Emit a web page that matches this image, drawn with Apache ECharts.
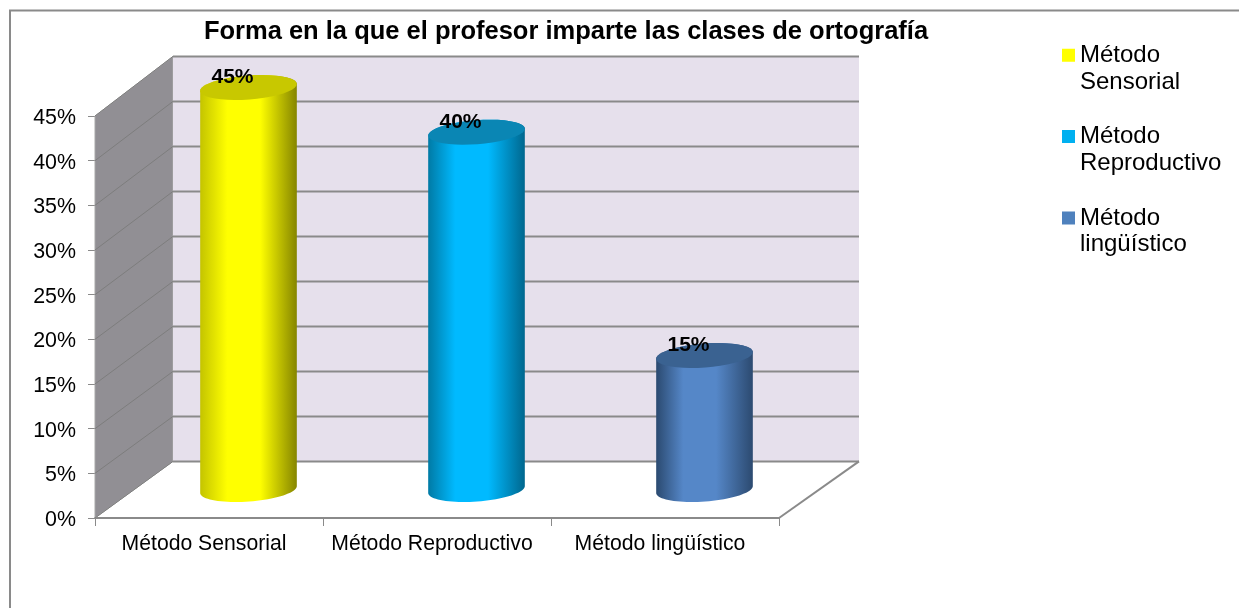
<!DOCTYPE html>
<html>
<head>
<meta charset="utf-8">
<style>
html, body { margin: 0; padding: 0; background: #fff; }
#chart { width: 1239px; height: 608px; }
</style>
<script src="https://cdn.jsdelivr.net/npm/echarts@6/dist/echarts.min.js"></script>
</head>
<body>
<div id="chart"></div>
<script>
const categorias = ['Método Sensorial', 'Método Reproductivo', 'Método lingüístico'];
const metodos = ['Método\nSensorial', 'Método\nReproductivo', 'Método\nlingüístico'];
const valores = [45, 40, 15];
const marcasY = [0, 5, 10, 15, 20, 25, 30, 35, 40, 45];
const titulo = 'Forma en la que el profesor imparte las clases de ortografía';

// profundidad del efecto 3D
const fondoX = 78;
const fondoY = -56.6;
const fugaY = -3; // la pared del fondo es un poco mas alta que el frente
const gris = '#8a8a8a';

const colores = [
    { base: '#ffff00', centro: '#ffff00', izq: '#c4c400', der: '#858500', tapa: '#c8c800' },
    { base: '#00b0f0', centro: '#00baff', izq: '#007aa5', der: '#00678e', tapa: '#0a86b4' },
    { base: '#4f81bd', centro: '#5587c8', izq: '#2b4a70', der: '#2c4a70', tapa: '#3a6291' }
];

function renderParedes(params, api) {
    if (params.dataIndex !== 0) return;
    const cs = params.coordSys;
    const x0 = cs.x;
    const x1 = cs.x + cs.width;
    const y0 = cs.y + cs.height;
    const yTop = cs.y;
    const xFin = x1 + fondoX + 2;
    const atras = v => api.coord([0, v])[1] + fondoY + fugaY * v / 45;
    const hijos = [
        { type: 'polygon', shape: { points: [[x0, yTop], [x0 + fondoX, atras(45)], [x0 + fondoX, atras(0)], [x0, y0]] }, style: { fill: '#918f94', stroke: '#a8a8a8', lineWidth: 1 } },
        { type: 'polygon', shape: { points: [[x0 + fondoX, atras(45)], [xFin, atras(45)], [xFin, atras(0)], [x0 + fondoX, atras(0)]] }, style: { fill: '#e6e0ec' } },
        { type: 'line', shape: { x1: x1, y1: y0, x2: xFin, y2: atras(0) }, style: { stroke: gris, lineWidth: 2 } }
    ];
    marcasY.forEach(v => {
        const y = api.coord([0, v])[1];
        hijos.push({ type: 'line', shape: { x1: x0, y1: y, x2: x0 + fondoX, y2: atras(v) }, style: { stroke: '#7d7d7d', lineWidth: 1 } });
        hijos.push({ type: 'line', shape: { x1: x0 + fondoX, y1: atras(v), x2: xFin, y2: atras(v) }, style: { stroke: gris, lineWidth: 2 } });
    });
    return { type: 'group', children: hijos };
}

function elipse(cx, cy, rx, ry, giro, desde, hasta) {
    const pts = [];
    for (let i = 0; i <= 40; i++) {
        const t = desde + (hasta - desde) * i / 40;
        const ex = rx * Math.cos(t);
        const ey = ry * Math.sin(t);
        pts.push([cx + ex * Math.cos(giro) - ey * Math.sin(giro), cy + ex * Math.sin(giro) + ey * Math.cos(giro)]);
    }
    return pts;
}

function renderCilindro(indice) {
    return function (params, api) {
        const col = colores[indice];
        const base = api.coord([api.value(0), 0]);
        const tope = api.coord([api.value(0), api.value(1)]);
        const rx = api.size([1, 0])[0] * 0.2125;
        const ry = 12;
        const giro = -0.075;
        const cx = base[0] + fondoX / 2 + 0.5;
        const yBase = base[1] - 28.5;
        const yTope = tope[1] - 28.5;
        const cuerpo = elipse(cx, yBase, rx, ry, giro, 0, Math.PI).concat(elipse(cx, yTope, rx, ry, giro, Math.PI, 2 * Math.PI));
        return {
            type: 'group',
            children: [
                {
                    type: 'polygon',
                    shape: { points: cuerpo },
                    style: {
                        fill: new echarts.graphic.LinearGradient(0, 0, 1, 0, [
                            { offset: 0, color: col.izq },
                            { offset: 0.28, color: col.centro },
                            { offset: 0.62, color: col.centro },
                            { offset: 1, color: col.der }
                        ])
                    }
                },
                { type: 'polygon', shape: { points: elipse(cx, yTope, rx, ry, giro, 0, 2 * Math.PI) }, style: { fill: col.tapa } },
                {
                    type: 'text',
                    x: cx - 16,
                    y: yTope - 10,
                    style: { text: api.value(1) + '%', font: 'bold 21px "Liberation Sans", Arial, sans-serif', fill: '#000', align: 'center', verticalAlign: 'middle' }
                }
            ]
        };
    };
}

const series = [
    { type: 'custom', name: 'paredes', z: 1, silent: true, renderItem: renderParedes, data: [[0, 0]], encode: { x: 0, y: 1 } }
];
metodos.forEach((nombre, i) => {
    series.push({
        type: 'custom',
        name: nombre,
        z: 3,
        silent: true,
        itemStyle: { color: colores[i].base },
        renderItem: renderCilindro(i),
        data: [[i, valores[i]]],
        encode: { x: 0, y: 1 }
    });
});

const myChart = echarts.init(document.getElementById('chart'));
myChart.setOption({
    animation: false,
    backgroundColor: '#ffffff',
    textStyle: { fontFamily: '"Liberation Sans", Arial, sans-serif' },
    title: {
        text: titulo,
        left: 561,
        top: 14,
        textAlign: 'center',
        textStyle: { fontSize: 25.5, fontWeight: 'bold', color: '#000' }
    },
    legend: {
        data: metodos,
        orient: 'vertical',
        left: 1057,
        top: 37,
        itemWidth: 13,
        itemHeight: 53,
        itemGap: 28,
        selectedMode: false,
        icon: 'path://M0 0L0 0ZM0 6.5H13V19.5H0ZM0 53L0 53Z',
        textStyle: { fontSize: 24, lineHeight: 26.7, color: '#000' }
    },
    grid: { left: 95, right: 460, top: 116, bottom: 90 },
    xAxis: {
        type: 'category',
        data: categorias,
        axisLine: { show: true, lineStyle: { color: gris, width: 2 } },
        axisTick: { show: true, interval: 0, length: 8, lineStyle: { color: gris, width: 1 } },
        axisLabel: { interval: 0, color: '#000', fontSize: 21.2, margin: 16, padding: [0, 10, 0, 0] },
        splitLine: { show: false }
    },
    yAxis: {
        type: 'value',
        min: 0,
        max: 45,
        interval: 5,
        axisLine: { show: true, lineStyle: { color: gris, width: 1 } },
        axisTick: { show: true, length: 7, lineStyle: { color: gris, width: 1 } },
        axisLabel: {
            margin: 19,
            formatter: v => '{v|' + v + '%}',
            rich: { v: { color: '#000', fontSize: 21.4, padding: [4, 0, 0, 0] } }
        },
        splitLine: { show: false }
    },
    graphic: [
        { type: 'polyline', silent: true, z: 0, shape: { points: [[10, 608], [10, 10.5], [1239, 10.5]] }, style: { fill: null, stroke: '#8a8a8a', lineWidth: 2 } }
    ],
    series: series
});
</script>
</body>
</html>
